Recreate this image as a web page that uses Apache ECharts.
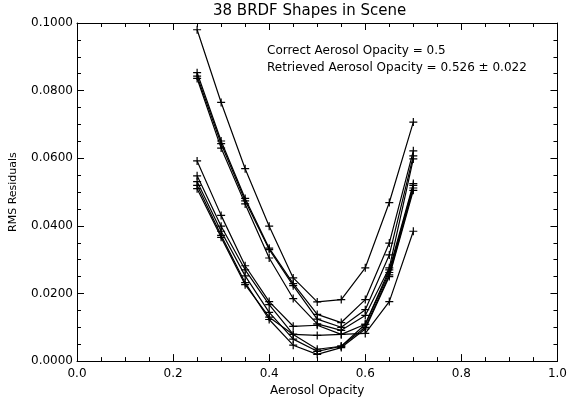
<!DOCTYPE html>
<html>
<head>
<meta charset="utf-8">
<script src="https://cdn.jsdelivr.net/npm/echarts@6/dist/echarts.min.js"></script>
<style>
  html, body { margin: 0; padding: 0; background: #fff; }
  #chart { width: 570px; height: 402px; }
</style>
</head>
<body>
<div id="chart"></div>
<script>
// aerosol opacity values tried
var opacity = [0.25, 0.30, 0.35, 0.40, 0.45, 0.50, 0.55, 0.60, 0.65, 0.70];

// RMS residual curves
var shapeA = [0.0980, 0.0765, 0.0569, 0.0399, 0.0246, 0.0175, 0.0182, 0.0276, 0.0469, 0.0707];
var shapeB = [0.0853, 0.0651, 0.0481, 0.0334, 0.0229, 0.0138, 0.0114, 0.0182, 0.0349, 0.0622];
var shapeC = [0.0843, 0.0643, 0.0474, 0.0330, 0.0223, 0.0124, 0.0100, 0.0152, 0.0314, 0.0607];
var shapeD = [0.0836, 0.0630, 0.0465, 0.0305, 0.0185, 0.0110, 0.0091, 0.0135, 0.0276, 0.0598];
var shapeE = [0.0592, 0.0431, 0.0282, 0.0176, 0.0103, 0.0106, 0.0079, 0.0109, 0.0270, 0.0525];
var shapeF = [0.0548, 0.0399, 0.0270, 0.0167, 0.0079, 0.0035, 0.0044, 0.0109, 0.0262, 0.0520];
var shapeG = [0.0531, 0.0384, 0.0252, 0.0144, 0.0065, 0.0029, 0.0044, 0.0100, 0.0255, 0.0512];
var shapeH = [0.0520, 0.0372, 0.0232, 0.0123, 0.0047, 0.0020, 0.0040, 0.0095, 0.0250, 0.0505];
var shapeI = [0.0510, 0.0366, 0.0226, 0.0130, 0.0079, 0.0076, 0.0079, 0.0082, 0.0176, 0.0384];

var shapes = [shapeA, shapeB, shapeC, shapeD, shapeE, shapeF, shapeG, shapeH, shapeI];

var yTicks = { min: 0, max: 0.1, interval: 0.02 };
var xTicks = { min: 0, max: 1.0, interval: 0.2 };

var titleText = '38 BRDF Shapes in Scene';
var noteLines = ['Correct Aerosol Opacity = 0.5', 'Retrieved Aerosol Opacity = 0.526 \u00b1 0.022'];

var font = 'DejaVu Sans';
var plus = 'path://M5,0L5,10M0,5L10,5';

var myChart = echarts.init(document.getElementById('chart'));

function axisBase(extra) {
    var a = {
        type: 'value',
        axisLine: { show: true, onZero: false, lineStyle: { color: '#000', width: 1 } },
        axisTick: { show: true, inside: true, length: 7, lineStyle: { color: '#000' } },
        minorTick: { show: true, splitNumber: 4, length: 4, lineStyle: { color: '#000' } },
        splitLine: { show: false },
        axisLabel: { color: '#000', fontFamily: font, fontSize: 12 }
    };
    for (var k in extra) a[k] = extra[k];
    return a;
}

var series = shapes.map(function (vals, i) {
    return {
        name: 'shape' + i,
        type: 'line',
        data: opacity.map(function (x, j) { return [x, vals[j]]; }),
        symbol: plus,
        symbolSize: 8,
        showSymbol: true,
        lineStyle: { color: '#000', width: 1.2 },
        itemStyle: { color: 'rgba(0,0,0,0)', borderColor: '#000', borderWidth: 1.2 },
        emphasis: { disabled: true },
        silent: true
    };
});

var option = {
    backgroundColor: '#fff',
    animation: false,
    grid: { left: 72, right: 9, top: 23, bottom: 38 },
    xAxis: [
        axisBase({
            position: 'bottom',
            min: xTicks.min, max: xTicks.max, interval: xTicks.interval,
            name: 'Aerosol Opacity', nameLocation: 'middle', nameGap: 23,
            nameTextStyle: { color: '#000', fontFamily: font, fontSize: 12 },
            axisLabel: { color: '#000', fontFamily: font, fontSize: 12, margin: 7,
                formatter: function (v) { return v.toFixed(1); } }
        }),
        axisBase({
            position: 'top',
            min: xTicks.min, max: xTicks.max, interval: xTicks.interval,
            axisLabel: { show: false }
        })
    ],
    yAxis: [
        axisBase({
            position: 'left',
            min: yTicks.min, max: yTicks.max, interval: yTicks.interval,
            name: 'RMS Residuals', nameLocation: 'middle', nameGap: 58,
            nameTextStyle: { color: '#000', fontFamily: font, fontSize: 11 },
            axisLabel: { color: '#000', fontFamily: font, fontSize: 12, margin: 4,
                formatter: function (v) { return v.toFixed(4); } }
        }),
        axisBase({
            position: 'right',
            min: yTicks.min, max: yTicks.max, interval: yTicks.interval,
            axisLabel: { show: false }
        })
    ],
    graphic: [
        {
            type: 'text', left: 213, top: 4,
            style: { text: titleText, fill: '#000', font: '15px ' + font }
        },
        {
            type: 'text', left: 267, top: 45,
            style: { text: noteLines[0], fill: '#000', font: '12px ' + font }
        },
        {
            type: 'text', left: 267, top: 62,
            style: { text: noteLines[1], fill: '#000', font: '12px ' + font }
        }
    ],
    series: series
};

myChart.setOption(option);
</script>
</body>
</html>
